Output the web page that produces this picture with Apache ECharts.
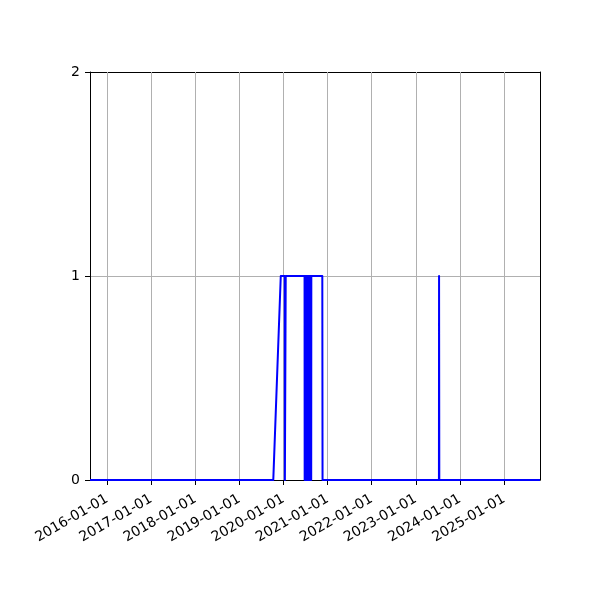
<!DOCTYPE html>
<html>
<head>
<meta charset="utf-8">
<script src="https://cdn.jsdelivr.net/npm/echarts@6/dist/echarts.min.js"></script>
<style>html,body{margin:0;padding:0;background:#fff}#c{width:600px;height:600px}</style>
</head>
<body>
<div id="c"></div>
<script>
const dates = [
  '2015-08-13','2019-10-09','2019-12-10','2020-01-12','2020-01-13','2020-01-19','2020-01-20',
  '2020-06-24','2020-06-25','2020-06-28','2020-07-01','2020-07-04','2020-07-07','2020-07-10',
  '2020-07-13','2020-07-16','2020-07-19','2020-07-22','2020-07-25','2020-07-28','2020-07-31',
  '2020-08-03','2020-08-06','2020-08-09','2020-08-12','2020-08-15','2020-08-18','2020-08-19',
  '2020-11-18','2020-11-20','2023-07-12','2023-07-13','2023-07-14','2023-07-15','2025-10-26'
];
const values = [
  0,0,1,1,0,0,1,
  1,0,1,0,1,0,1,
  0,1,0,1,0,1,0,
  1,0,1,0,1,0,1,
  1,0,0,1,1,0,0
];
const xTicks = ['2016-01-01','2017-01-01','2018-01-01','2019-01-01','2020-01-01',
  '2021-01-01','2022-01-01','2023-01-01','2024-01-01','2025-01-01'];
const yTicks = [0, 1, 2];
const xMin = '2015-08-13';
const xMax = '2025-10-26';

const ts = s => new Date(s + 'T00:00:00Z').getTime();
const pad = n => (n < 10 ? '0' : '') + n;
const fmt = v => { const d = new Date(v); return d.getUTCFullYear() + '-' + pad(d.getUTCMonth() + 1) + '-' + pad(d.getUTCDate()); };
const tickVals = xTicks.map(ts);

const chart = echarts.init(document.getElementById('c'), null, { renderer: 'canvas' });
chart.setOption({
  animation: false,
  backgroundColor: '#fff',
  grid: { left: 90, right: 60, top: 72, bottom: 120, show: false },
  xAxis: [{
    type: 'value',
    min: ts(xMin), max: ts(xMax),
    axisLine: { show: true, lineStyle: { color: '#000', width: 1 } },
    axisTick: { show: true, length: 5, inside: false, lineStyle: { color: '#000' }, customValues: tickVals },
    axisLabel: { show: true, rotate: 30, margin: 18, color: '#000', fontSize: 14, fontFamily: 'DejaVu Sans', customValues: tickVals, formatter: v => fmt(v) },
    splitLine: { show: false }
  }, {
    type: 'value', position: 'top',
    min: ts(xMin), max: ts(xMax),
    axisLine: { show: true, onZero: false, lineStyle: { color: '#000', width: 1 } },
    axisTick: { show: false }, axisLabel: { show: false }, splitLine: { show: false }
  }],
  yAxis: [{
    type: 'value', min: 0, max: 2, interval: 1,
    axisLine: { show: true, lineStyle: { color: '#000', width: 1 } },
    axisTick: { show: true, length: 5, inside: false, lineStyle: { color: '#000' } },
    axisLabel: { color: '#000', fontSize: 14, fontFamily: 'DejaVu Sans', margin: 10, customValues: yTicks },
    splitLine: { show: true, lineStyle: { color: '#b0b0b0', width: 1 } }
  }, {
    type: 'value', position: 'right', min: 0, max: 2, interval: 1,
    axisLine: { show: true, onZero: false, lineStyle: { color: '#000', width: 1 } },
    axisTick: { show: false }, axisLabel: { show: false }, splitLine: { show: false }
  }],
  series: [{
    type: 'line',
    xAxisIndex: 0, yAxisIndex: 0,
    data: dates.map((d, i) => [ts(d), values[i]]),
    showSymbol: false,
    symbol: 'none',
    lineStyle: { color: '#0000ff', width: 2, join: 'round', cap: 'butt' },
    clip: true,
    z: 3,
    markLine: {
      silent: true, symbol: 'none', label: { show: false }, animation: false,
      lineStyle: { color: '#b0b0b0', width: 1, type: 'solid' },
      z: 1,
      data: tickVals.map(v => ({ xAxis: v }))
    }
  }]
});
</script>
</body>
</html>
